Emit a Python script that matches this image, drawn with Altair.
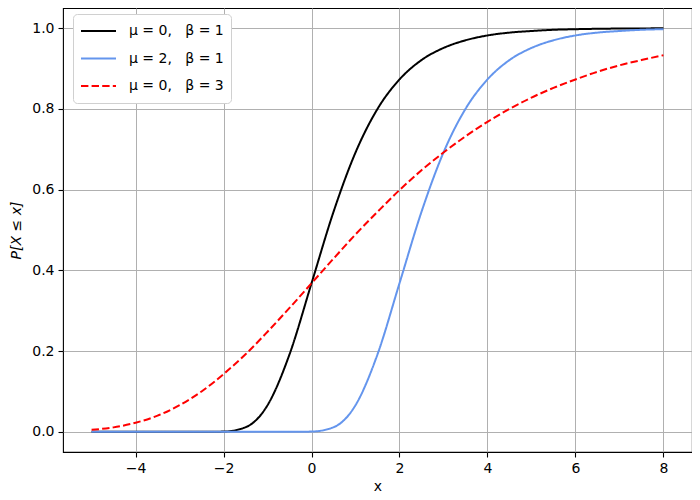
import altair as alt
import pandas as pd

x_vals = [-5.0, -4.5, -4.0, -3.5, -3.0, -2.5, -2.0, -1.5, -1.0, -0.5, 0.0, 0.5, 1.0,
          1.5, 2.0, 2.5, 3.0, 3.5, 4.0, 4.5, 5.0, 5.5, 6.0, 6.5, 7.0, 7.5, 8.0]

s1 = [0.0, 0.0, 0.0, 0.0, 0.0, 0.0, 0.0006, 0.0113, 0.066, 0.192, 0.368, 0.545, 0.692,
      0.800, 0.873, 0.921, 0.951, 0.970, 0.982, 0.989, 0.993, 0.996, 0.9975, 0.9985,
      0.9991, 0.9994, 0.9997]
s2 = [0.0, 0.0, 0.0, 0.0, 0.0, 0.0, 0.0, 0.0, 0.0, 0.0, 0.0006, 0.0113, 0.066, 0.192,
      0.368, 0.545, 0.692, 0.800, 0.873, 0.921, 0.951, 0.970, 0.982, 0.989, 0.993,
      0.996, 0.9975]
s3 = [0.005, 0.011, 0.0225, 0.040, 0.066, 0.100, 0.143, 0.192, 0.248, 0.307, 0.368,
      0.429, 0.489, 0.545, 0.599, 0.648, 0.692, 0.732, 0.768, 0.800, 0.828, 0.852,
      0.873, 0.892, 0.908, 0.921, 0.933]

NB = "\u00a0"
names = [f"μ{NB}={NB}0,{NB}{NB}{NB}β{NB}={NB}1",
         f"μ{NB}={NB}2,{NB}{NB}{NB}β{NB}={NB}1",
         f"μ{NB}={NB}0,{NB}{NB}{NB}β{NB}={NB}3"]
colors = ["#000000", "#6495ED", "#FF0000"]
dashes = [[1, 0], [1, 0], [7.4, 3.2]]

rows = []
for name, ys in zip(names, [s1, s2, s3]):
    for xv, yv in zip(x_vals, ys):
        rows.append({"x": xv, "y": yv, "series": name})
df = pd.DataFrame(rows)

font = "DejaVu Sans"

chart = alt.Chart(df).mark_line(strokeWidth=2, interpolate="monotone").encode(
    x=alt.X("x:Q",
            scale=alt.Scale(domain=[-5.65, 8.65], nice=False, zero=False),
            axis=alt.Axis(values=[-4, -2, 0, 2, 4, 6, 8], title="x",
                          labelExpr="replace(datum.label, '-', '−')",
                          titlePadding=4)),
    y=alt.Y("y:Q",
            scale=alt.Scale(domain=[-0.05, 1.05], nice=False, zero=False),
            axis=alt.Axis(values=[0, 0.2, 0.4, 0.6, 0.8, 1.0], format=".1f",
                          title="P[X ≤ x]", titleFontStyle="italic", titlePadding=8)),
    color=alt.Color("series:N", scale=alt.Scale(domain=names, range=colors),
                    legend=alt.Legend(title=None, orient="none", legendX=10, legendY=6,
                                      fillColor="white", strokeColor="#d0d0d0",
                                      cornerRadius=4, padding=7,
                                      symbolType="stroke", symbolSize=1225,
                                      symbolStrokeWidth=2, clipHeight=20,
                                      labelFontSize=14, labelFont=font,
                                      labelColor="black", labelOffset=12,
                                      rowPadding=7.5, labelLimit=300)),
    strokeDash=alt.StrokeDash("series:N", scale=alt.Scale(domain=names, range=dashes),
                              legend=None),
).properties(
    width=629, height=444,
    autosize=alt.AutoSizeParams(type="none"),
    padding={"left": 55, "top": 0, "right": 0, "bottom": 40},
).configure_view(
    stroke="black", strokeWidth=1.1
).configure_axis(
    grid=True, gridColor="#b0b0b0", gridWidth=1,
    domain=False, tickColor="black", tickSize=5, tickWidth=1.1,
    labelFont=font, labelFontSize=14, labelColor="black", labelPadding=4,
    titleFont=font, titleFontSize=14, titleColor="black", titleFontWeight="normal",
)

chart.save("out.html", embed_options={"renderer": "svg", "actions": False})
